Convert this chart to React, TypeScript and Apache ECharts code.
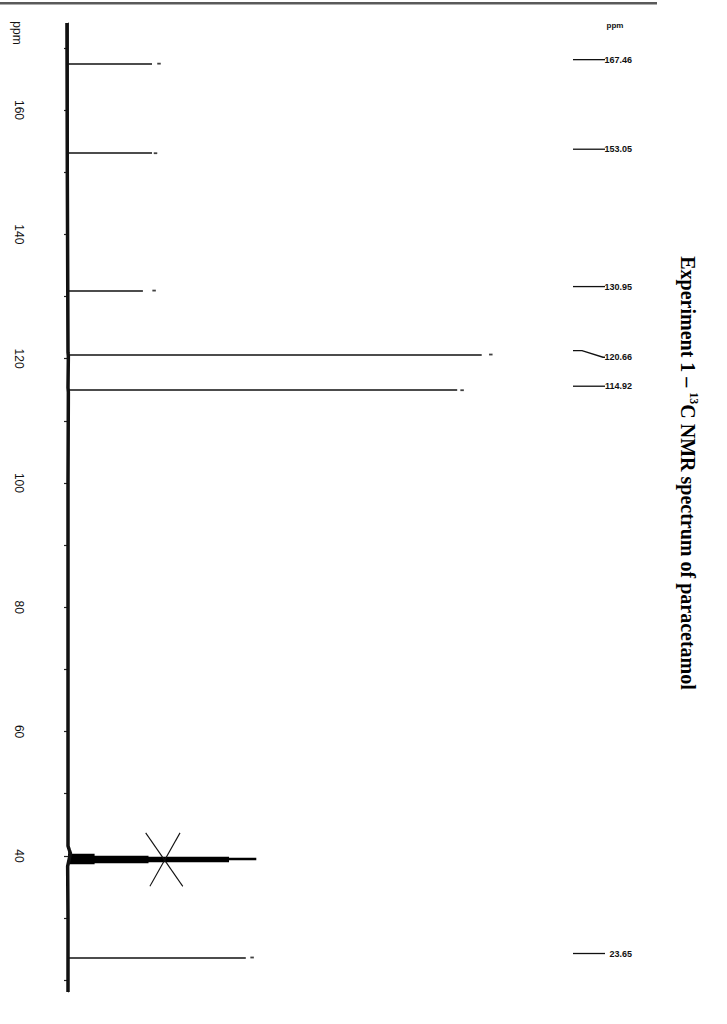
import React, { useEffect, useRef } from "react";
import * as echarts from "echarts";

// Resolved carbon peaks of paracetamol (ppm), their plotted heights (arbitrary units)
const PEAK_PPM = [167.46, 153.05, 130.95, 120.66, 114.92, 23.65];
const PEAK_HEIGHT = [12.0, 12.0, 10.7, 59.1, 55.6, 25.4];
// small peak-pick marks drawn just beyond each peak tip
const PICK_MARK_HEIGHT = [13.0, 12.5, 12.3, 60.4, 56.3, 26.3];
const PEAK_LABELS = ["167.46", "153.05", "130.95", "120.66", "114.92", "23.65"];

// DMSO-d6 solvent septet
const SOLVENT_PPM = [40.13, 39.92, 39.71, 39.5, 39.29, 39.08, 38.87];
const SOLVENT_HEIGHT = [3.8, 11.5, 23.0, 26.9, 23.0, 11.5, 3.8];

// Baseline trace
const BASELINE_PPM = [174, 150, 121.0, 120.4, 115.3, 114.6, 100, 60, 41.6, 40.9, 40.4, 38.6, 38.3, 30, 18.1];
const BASELINE_OFFSET = [-0.15, -0.1, 0, 0.05, 0, 0.05, 0, 0, 0, 0.2, 0.35, 0, -0.05, 0, 0];

// Cross marking the solvent signal
const CROSS_START = [[11.1, 43.7], [16.0, 43.7]];
const CROSS_END = [[16.4, 35.1], [11.7, 35.1]];

// Axis
const AXIS_MIN = 18.1;
const AXIS_MAX = 174;
const TICK_VALUES = [20, 30, 40, 50, 60, 70, 80, 90, 100, 110, 120, 130, 140, 150, 160, 170];
const LABEL_VALUES = [40, 60, 80, 100, 120, 140, 160];

const TITLE_MAIN_A = "Experiment 1 \u2013 ";
const TITLE_SUP = "13";
const TITLE_MAIN_B = "C NMR spectrum of paracetamol";

export default function App() {
  const ref = useRef<HTMLDivElement>(null);

  useEffect(() => {
    document.body.style.margin = "0";
    if (!ref.current) return;
    const chart = echarts.init(ref.current, undefined, { renderer: "svg" });

    const baselineData = BASELINE_PPM.map((p, i) => [BASELINE_OFFSET[i], p]);
    const peakLines = PEAK_PPM.map((p, i) => ({ coords: [[0, p], [PEAK_HEIGHT[i], p]] }));
    const solventLines = SOLVENT_PPM.map((p, i) => ({ coords: [[0, p], [SOLVENT_HEIGHT[i], p]] }));
    const pickMarks = PEAK_PPM.map((p, i) => [PICK_MARK_HEIGHT[i], p]);
    const crossLines = CROSS_START.map((s, i) => ({ coords: [s, CROSS_END[i]] }));
    const labelFont = 'bold 9px "Liberation Sans", Arial, sans-serif';

    const option: any = {
      animation: false,
      backgroundColor: "#ffffff",
      grid: { left: 33, right: 29, top: 23, bottom: 32, containLabel: false },
      xAxis: { type: "value", min: -5, max: 90, show: false },
      yAxis: {
        type: "value",
        position: "left",
        min: AXIS_MIN,
        max: AXIS_MAX,
        axisLine: { show: true, lineStyle: { color: "#444", width: 1 } },
        axisTick: { show: true, length: 4, customValues: TICK_VALUES, lineStyle: { color: "#222", width: 1.2 } },
        axisLabel: {
          customValues: LABEL_VALUES,
          rotate: -90,
          margin: 8,
          color: "#111",
          fontSize: 12,
          fontFamily: '"Liberation Sans", Arial, sans-serif',
        },
        splitLine: { show: false },
      },
      graphic: [
        { type: "rect", left: 0, top: 2, shape: { width: 657, height: 2.5 }, style: { fill: "#5a5a5a" } },
        {
          type: "text",
          x: 17,
          y: 33,
          rotation: -Math.PI / 2,
          style: { text: "ppm", align: "center", verticalAlign: "middle", fill: "#111", font: '12px "Liberation Sans", Arial, sans-serif' },
        },
        {
          type: "text",
          x: 615,
          y: 25,
          style: { text: "ppm", align: "center", verticalAlign: "middle", fill: "#111", font: 'bold 8px "Liberation Sans", Arial, sans-serif' },
        },
        {
          type: "text",
          x: 688,
          y: 473,
          rotation: -Math.PI / 2,
          style: {
            text: "{a|" + TITLE_MAIN_A + "}{s|" + TITLE_SUP + "}{a|" + TITLE_MAIN_B + "}",
            align: "center",
            verticalAlign: "middle",
            fill: "#000",
            rich: {
              a: { fontFamily: '"Liberation Serif", "Times New Roman", serif', fontWeight: "bold", fontSize: 20, lineHeight: 24, fill: "#000" },
              s: { fontFamily: '"Liberation Serif", "Times New Roman", serif', fontWeight: "bold", fontSize: 12, lineHeight: 24, verticalAlign: "top", fill: "#000" },
            },
          },
        },
      ],
      series: [
        {
          name: "baseline",
          type: "line",
          data: baselineData,
          showSymbol: false,
          lineStyle: { color: "#111", width: 3.5 },
          silent: true,
          z: 3,
        },
        {
          name: "peaks",
          type: "lines",
          coordinateSystem: "cartesian2d",
          data: peakLines,
          lineStyle: { color: "#111", width: 1.6, opacity: 1 },
          silent: true,
          z: 2,
        },
        {
          name: "solvent",
          type: "lines",
          coordinateSystem: "cartesian2d",
          data: solventLines,
          lineStyle: { color: "#000", width: 2.3, opacity: 1 },
          silent: true,
          z: 2,
        },
        {
          name: "pick marks",
          type: "scatter",
          data: pickMarks,
          symbol: "rect",
          symbolSize: [3.5, 1.8],
          itemStyle: { color: "#111" },
          silent: true,
        },
        {
          name: "cross",
          type: "lines",
          coordinateSystem: "cartesian2d",
          data: crossLines,
          lineStyle: { color: "#111", width: 1.1, opacity: 1 },
          silent: true,
          z: 4,
        },
        {
          name: "peak list",
          type: "custom",
          coordinateSystem: "cartesian2d",
          data: PEAK_PPM.map((p, i) => [0, p, i]),
          encode: { x: 0, y: 1 },
          silent: true,
          z: 5,
          renderItem: (params: any, api: any) => {
            const i = api.value(2);
            const y0 = api.coord([0, api.value(1)])[1] - 4;
            const shifted = PEAK_LABELS[i] === "120.66";
            const y1 = shifted ? y0 + 6.7 : y0;
            const pts = shifted
              ? [[573, y0], [582, y0], [603, y1], [605, y1]]
              : [[573, y0], [605, y0]];
            return {
              type: "group",
              children: [
                { type: "polyline", shape: { points: pts }, style: { stroke: "#111", lineWidth: 1.3, fill: null } },
                {
                  type: "text",
                  style: { text: PEAK_LABELS[i], x: 632, y: y1, align: "right", verticalAlign: "middle", fill: "#111", font: labelFont },
                },
              ],
            };
          },
        },
      ],
    };

    chart.setOption(option);
    return () => chart.dispose();
  }, []);

  return <div ref={ref} style={{ width: 727, height: 1024 }} />;
}
